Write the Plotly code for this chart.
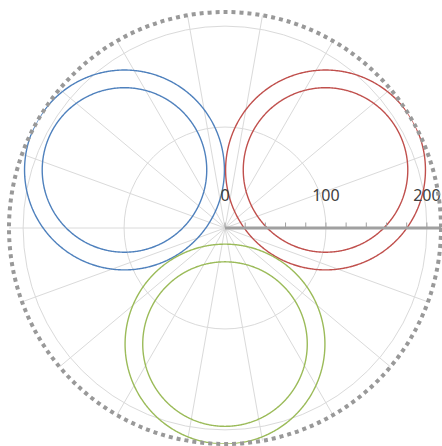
import numpy as np
import plotly.graph_objects as go

# ---- data ----
series_names = ["Series 1 outer", "Series 1 inner",
                "Series 2 outer", "Series 2 inner",
                "Series 3 outer", "Series 3 inner"]
center_angles = [150, 150, 30, 30, 270, 270]      # degrees
center_dists = [115, 115, 115, 115, 115, 115]     # radial units
circle_radii = [99, 81.5, 99, 81.5, 99, 81.5]     # radial units

radial_tickvals = [0, 100, 200]
radial_ticktext = ["0", "100", "200"]
minor_tickvals = [0, 20, 40, 60, 80, 100, 120, 140, 160, 180, 200]
radial_max = 214
angular_step = 20

# ---- styles ----
colors = ["#4F81BD", "#4F81BD", "#C0504D", "#C0504D", "#9BBB59", "#9BBB59"]

fig = go.Figure()
t = np.radians(np.linspace(0, 360, 721))
for name, ca, cd, rad, col in zip(series_names, center_angles, center_dists,
                                  circle_radii, colors):
    cx = cd * np.cos(np.radians(ca))
    cy = cd * np.sin(np.radians(ca))
    x = cx + rad * np.cos(t)
    y = cy + rad * np.sin(t)
    r = np.hypot(x, y)
    th = np.degrees(np.arctan2(y, x))
    fig.add_trace(go.Scatterpolar(r=r, theta=th, mode="lines", name=name,
                                  line=dict(color=col, width=1.4),
                                  hoverinfo="skip", subplot="polar"))

fig.update_layout(
    width=442, height=446,
    margin=dict(l=9, r=1, t=12, b=2),
    paper_bgcolor="white",
    showlegend=False,
    polar=dict(
        bgcolor="white",
        domain=dict(x=[0, 1], y=[0, 1]),
        radialaxis=dict(
            range=[0, radial_max], angle=0, side="counterclockwise",
            tickvals=radial_tickvals, ticktext=radial_ticktext,
            ticks="outside", ticklen=19, tickcolor="rgba(0,0,0,0)",
            showline=True, linecolor="#a0a0a0", linewidth=3,
            showgrid=True, gridcolor="#dadada", gridwidth=1,
            tickfont=dict(family="Segoe UI, Noto Sans, sans-serif", size=16, color="#404040"),
            tickangle=0,
        ),
        angularaxis=dict(
            direction="counterclockwise", rotation=0, dtick=angular_step,
            showticklabels=False, ticks="", showline=False,
            showgrid=True, gridcolor="#dadada", gridwidth=1,
        ),
    ),
    polar2=dict(
        bgcolor="rgba(0,0,0,0)",
        domain=dict(x=[0, 1], y=[0, 1]),
        radialaxis=dict(
            range=[0, radial_max], angle=0, side="counterclockwise",
            tickvals=minor_tickvals, showticklabels=False,
            ticks="outside", ticklen=5, tickcolor="#a0a0a0", tickwidth=1,
            showline=False, showgrid=False,
        ),
        angularaxis=dict(visible=False, showgrid=False),
    ),
    shapes=[dict(type="circle", xref="paper", yref="paper",
                 x0=0, y0=0, x1=1, y1=1,
                 line=dict(color="#999999", width=4, dash="dot"),
                 layer="above")],
)
# empty trace so polar2 is rendered
fig.add_trace(go.Scatterpolar(r=[None], theta=[None], subplot="polar2",
                              mode="lines", hoverinfo="skip", showlegend=False))

fig.write_html("out.html")
